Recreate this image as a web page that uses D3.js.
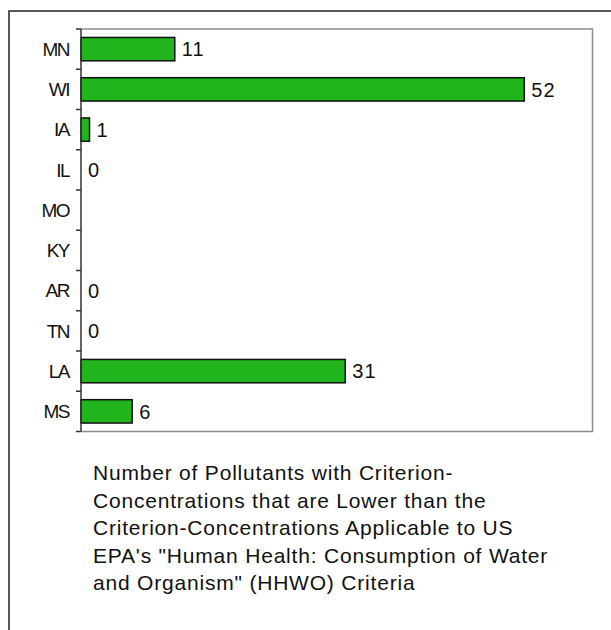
<!DOCTYPE html>
<html>
<head>
<meta charset="utf-8">
<script src="https://cdn.jsdelivr.net/npm/d3@7"></script>
<style>
  html, body { margin: 0; padding: 0; background: #fff; }
  svg { display: block; }
  text { font-family: "Liberation Sans", Arial, sans-serif; fill: #111; }
</style>
</head>
<body>
<svg id="chart" width="611" height="630"></svg>
<script>
// States, top to bottom, and the count of pollutants per state (null = no data)
const states = ["MN", "WI", "IA", "IL", "MO", "KY", "AR", "TN", "LA", "MS"];
const counts = [11, 52, 1, 0, null, null, 0, 0, 31, 6];
const xDomainMax = 60;
const titleLines = [
  "Number of Pollutants with Criterion-",
  "Concentrations that are Lower than the",
  "Criterion-Concentrations Applicable to US",
  "EPA's \"Human Health: Consumption of Water",
  "and Organism\" (HHWO) Criteria"
];

const svg = d3.select("#chart");

// Outer frame (runs off the right and bottom edges)
svg.append("rect")
  .attr("x", 9).attr("y", 11)
  .attr("width", 640).attr("height", 660)
  .attr("fill", "none")
  .attr("stroke", "#222")
  .attr("stroke-width", 1.5);

const plot = { left: 81, top: 29, right: 592.5, bottom: 431.5 };

const x = d3.scaleLinear()
  .domain([0, xDomainMax])
  .range([plot.left, plot.right]);

const y = d3.scaleBand()
  .domain(states)
  .range([plot.top, plot.bottom])
  .paddingInner(0.42)
  .paddingOuter(0.21);

// Plot area border (top, right, bottom in gray)
svg.append("path")
  .attr("d", `M${plot.left},${plot.top}H${plot.right}V${plot.bottom}H${plot.left}`)
  .attr("fill", "none")
  .attr("stroke", "#8c8c8c")
  .attr("stroke-width", 1.5);

const data = states.map((s, i) => ({ state: s, value: counts[i] }));

// Bars
svg.append("g")
  .selectAll("rect")
  .data(data.filter(d => d.value !== null && d.value > 0))
  .join("rect")
  .attr("x", x(0))
  .attr("y", d => y(d.state))
  .attr("width", d => x(d.value) - x(0))
  .attr("height", y.bandwidth())
  .attr("fill", "#22b41c")
  .attr("stroke", "#111")
  .attr("stroke-width", 1.5);

// Value labels
svg.append("g")
  .selectAll("text")
  .data(data.filter(d => d.value !== null))
  .join("text")
  .attr("x", d => x(d.value) + 7)
  .attr("y", d => y(d.state) + y.bandwidth() / 2)
  .attr("dy", "0.36em")
  .attr("font-size", 20)
  .attr("letter-spacing", "1px")
  .text(d => d.value);

// Category axis (ticks between categories)
const axisG = svg.append("g");
axisG.append("line")
  .attr("x1", plot.left).attr("x2", plot.left)
  .attr("y1", plot.top).attr("y2", plot.bottom)
  .attr("stroke", "#333").attr("stroke-width", 1.5);

const tickYs = d3.range(states.length + 1).map(i => plot.top + i * ((plot.bottom - plot.top) / states.length));
axisG.selectAll("line.tick")
  .data(tickYs)
  .join("line")
  .attr("class", "tick")
  .attr("x1", plot.left - 5).attr("x2", plot.left)
  .attr("y1", d => d).attr("y2", d => d)
  .attr("stroke", "#333").attr("stroke-width", 1.5);

axisG.selectAll("text")
  .data(states)
  .join("text")
  .attr("x", plot.left - 12)
  .attr("y", d => y(d) + y.bandwidth() / 2)
  .attr("dy", "0.36em")
  .attr("text-anchor", "end")
  .attr("font-size", 19)
  .attr("letter-spacing", "-1.5px")
  .text(d => d);

// Chart caption under the plot
svg.append("g")
  .selectAll("text")
  .data(titleLines)
  .join("text")
  .attr("x", 93)
  .attr("y", (d, i) => 480 + i * 27.6)
  .attr("font-size", 21)
  .attr("letter-spacing", "0.8px")
  .text(d => d);
</script>
</body>
</html>
